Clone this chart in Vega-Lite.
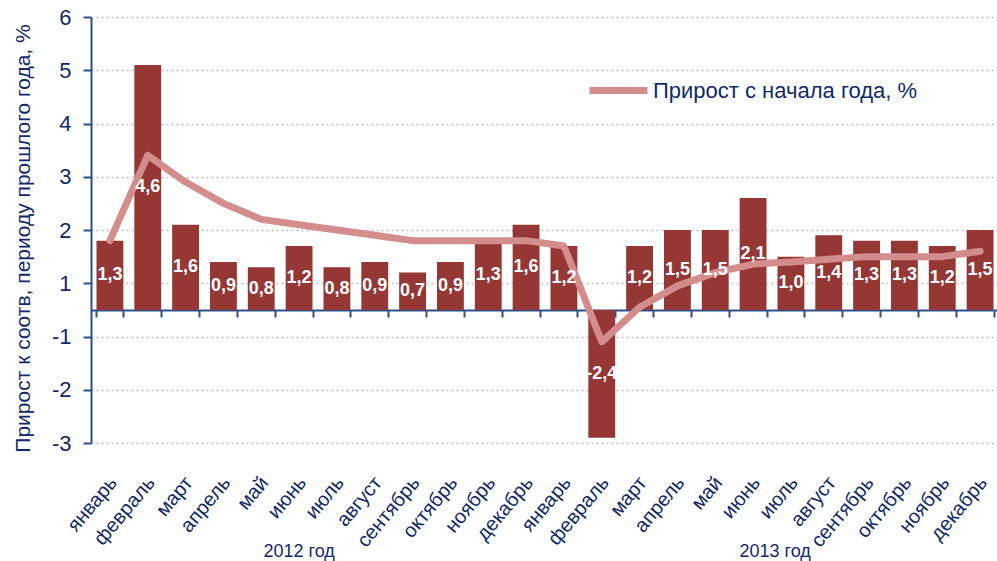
{
  "$schema": "https://vega.github.io/schema/vega-lite/v6.json",
  "width": 908,
  "height": 426,
  "autosize": {"type": "none"},
  "padding": {"left": 91, "top": 17, "right": 0, "bottom": 118},
  "background": "white",
  "title": {
    "text": "Добыча нефти",
    "font": "Liberation Sans",
    "fontSize": 26,
    "fontWeight": "bold",
    "color": "#0F2D69",
    "anchor": "middle",
    "frame": "group",
    "baseline": "alphabetic",
    "offset": 13,
    "dx": -65
  },
  "config": {
    "view": {"stroke": null},
    "font": "Liberation Sans",
    "locale": {
      "number": {"decimal": ",", "thousands": " ", "grouping": [3], "currency": ["", ""], "minus": "-"}
    }
  },
  "data": {
    "values": [
      {"m": "январь 2012", "v": 1.3, "c": 1.3},
      {"m": "февраль 2012", "v": 4.6, "c": 2.9},
      {"m": "март 2012", "v": 1.6, "c": 2.4},
      {"m": "апрель 2012", "v": 0.9, "c": 2.0},
      {"m": "май 2012", "v": 0.8, "c": 1.7},
      {"m": "июнь 2012", "v": 1.2, "c": 1.6, "yl": "2012 год"},
      {"m": "июль 2012", "v": 0.8, "c": 1.5},
      {"m": "август 2012", "v": 0.9, "c": 1.4},
      {"m": "сентябрь 2012", "v": 0.7, "c": 1.3},
      {"m": "октябрь 2012", "v": 0.9, "c": 1.3},
      {"m": "ноябрь 2012", "v": 1.3, "c": 1.3},
      {"m": "декабрь 2012", "v": 1.6, "c": 1.3},
      {"m": "январь 2013", "v": 1.2, "c": 1.2},
      {"m": "февраль 2013", "v": -2.4, "c": -0.6},
      {"m": "март 2013", "v": 1.2, "c": 0.05},
      {"m": "апрель 2013", "v": 1.5, "c": 0.45},
      {"m": "май 2013", "v": 1.5, "c": 0.7},
      {"m": "июнь 2013", "v": 2.1, "c": 0.86, "yl": "2013 год"},
      {"m": "июль 2013", "v": 1.0, "c": 0.9},
      {"m": "август 2013", "v": 1.4, "c": 0.95},
      {"m": "сентябрь 2013", "v": 1.3, "c": 1.0},
      {"m": "октябрь 2013", "v": 1.3, "c": 1.0},
      {"m": "ноябрь 2013", "v": 1.2, "c": 1.0},
      {"m": "декабрь 2013", "v": 1.5, "c": 1.1}
    ]
  },
  "encoding": {
    "x": {
      "field": "m",
      "type": "nominal",
      "sort": null,
      "scale": {"paddingInner": 0.29, "paddingOuter": 0.145},
      "axis": {
        "title": null,
        "offset": -133,
        "domainColor": "#2A5089",
        "domainWidth": 2,
        "tickColor": "#2A5089",
        "tickWidth": 2,
        "tickSize": 7,
        "tickBand": "extent",
        "grid": false,
        "labelAngle": -50,
        "labelAlign": "right",
        "labelBaseline": "middle",
        "labelPadding": 162,
        "labelOffset": 3,
        "labelFontSize": 20,
        "labelColor": "#112A6B",
        "labelExpr": "split(datum.label, ' ')[0]"
      }
    }
  },
  "resolve": {"scale": {"y": "independent"}},
  "layer": [
    {
      "mark": {"type": "bar", "color": "#953735"},
      "encoding": {
        "y": {
          "field": "v",
          "type": "quantitative",
          "scale": {"domain": [-2.5, 5.5], "nice": false, "zero": false},
          "axis": {
            "title": "Прирост к соотв, периоду прошлого года, %",
            "values": [-2.5, -1.5, -0.5, 0.5, 1.5, 2.5, 3.5, 4.5, 5.5],
            "labelExpr": "datum.value > 0 ? '' + (datum.value + 0.5) : '' + (datum.value - 0.5)",
            "grid": true,
            "gridDash": [2, 3],
            "gridColor": "#BDBDBD",
            "gridWidth": 1.5,
            "domainColor": "#2A5089",
            "domainWidth": 2,
            "tickColor": "#2A5089",
            "tickWidth": 2,
            "tickSize": 8,
            "labelFontSize": 22,
            "labelColor": "#112A6B",
            "labelPadding": 12,
            "titleFontSize": 21,
            "titleFontWeight": "normal",
            "titleColor": "#112A6B",
            "titleX": -68,
            "titleY": 221,
            "titleAngle": -90,
            "titleAlign": "center",
            "titleBaseline": "middle"
          }
        }
      }
    },
    {
      "mark": {"type": "line", "strokeWidth": 7, "strokeCap": "round", "strokeJoin": "round"},
      "encoding": {
        "y": {
          "field": "c",
          "type": "quantitative",
          "scale": {"domain": [-2.5, 5.5], "nice": false, "zero": false},
          "axis": null
        },
        "color": {
          "datum": "Прирост с начала года, %",
          "type": "nominal",
          "scale": {"range": ["#D38D8D"]},
          "legend": {
            "title": null,
            "orient": "none",
            "legendX": 495,
            "legendY": 41,
            "padding": 0,
            "symbolType": "stroke",
            "symbolSize": 3364,
            "symbolStrokeWidth": 7,
            "labelFontSize": 22,
            "labelColor": "#112A6B",
            "labelOffset": 2,
            "labelLimit": 0
          }
        }
      }
    },
    {
      "mark": {"type": "text", "color": "white", "font": "Liberation Sans", "fontWeight": "bold", "fontSize": 18, "baseline": "middle"},
      "encoding": {
        "y": {
          "field": "v",
          "type": "quantitative",
          "scale": {"domain": [-5, 11], "nice": false, "zero": false},
          "axis": null
        },
        "text": {"field": "v", "type": "quantitative", "format": ".1f"}
      }
    },
    {
      "mark": {"type": "text", "color": "#112A6B", "fontSize": 18, "baseline": "middle"},
      "encoding": {
        "y": {
          "datum": -4.55,
          "type": "quantitative",
          "scale": {"domain": [-2.5, 5.5], "nice": false, "zero": false},
          "axis": null
        },
        "text": {"condition": {"test": "datum.yl === '2012 год'", "field": "yl"}, "value": ""}
      }
    },
    {
      "mark": {"type": "text", "color": "#112A6B", "fontSize": 18, "baseline": "middle", "dx": 22},
      "encoding": {
        "y": {
          "datum": -4.55,
          "type": "quantitative",
          "scale": {"domain": [-2.5, 5.5], "nice": false, "zero": false},
          "axis": null
        },
        "text": {"condition": {"test": "datum.yl === '2013 год'", "field": "yl"}, "value": ""}
      }
    }
  ]
}
